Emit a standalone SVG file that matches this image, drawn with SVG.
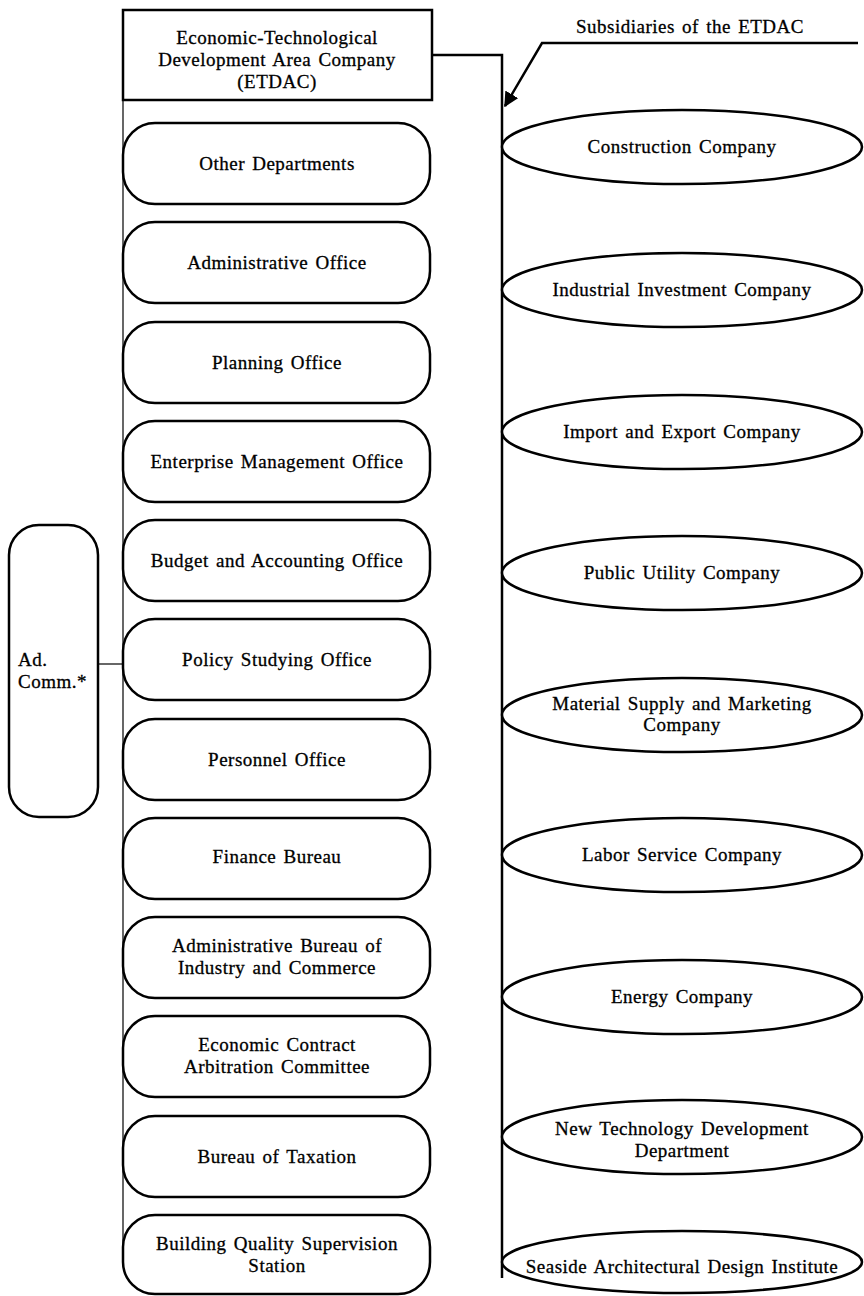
<svg xmlns="http://www.w3.org/2000/svg" width="864" height="1296" viewBox="0 0 864 1296">
<style>
text{font-family:"Liberation Serif","Times New Roman",serif;font-size:19px;fill:#000;stroke:#000;stroke-width:0.3;letter-spacing:0.5px;word-spacing:2px}
.c{text-anchor:middle}
.box{fill:#fff;stroke:#000;stroke-width:2.5}
.thin{fill:none;stroke:#000;stroke-width:1.2}
.thick{fill:none;stroke:#000;stroke-width:2.5}
</style>
<defs>
<marker id="ah" viewBox="0 0 10 10" refX="9" refY="5" markerWidth="6" markerHeight="6" orient="auto" markerUnits="strokeWidth">
<path d="M0,0 L10,5 L0,10 z" fill="#000"/>
</marker>
</defs>
<rect width="864" height="1296" fill="#fff"/>
<g id="connectors">
<line class="thin" x1="123" y1="100" x2="123" y2="1250"/>
<line class="thin" x1="98" y1="664" x2="123" y2="664"/>
<polyline class="thick" points="432,55 502,55 502,1278"/>
<polyline class="thick" points="858,43 542,43 505,106" marker-end="url(#ah)"/>
</g>
<g id="etdac">
<rect class="box" x="123" y="10" width="309" height="90"/>
<text class="c" x="277" y="44">Economic-Technological</text>
<text class="c" x="277" y="66">Development Area Company</text>
<text class="c" x="277" y="88">(ETDAC)</text>
</g>
<text id="subsidiaries-label" class="c" x="690" y="33">Subsidiaries of the ETDAC</text>
<g id="adcomm">
<rect class="box" x="9" y="525" width="89" height="292" rx="30"/>
<text x="18" y="666">Ad.</text>
<text x="18" y="688">Comm.*</text>
</g>
<g id="dept-other"><rect class="box" x="123" y="123" width="307" height="81" rx="32"/><text class="c" x="277" y="170">Other Departments</text></g>
<g id="dept-admin"><rect class="box" x="123" y="222" width="307" height="81" rx="32"/><text class="c" x="277" y="269">Administrative Office</text></g>
<g id="dept-planning"><rect class="box" x="123" y="322" width="307" height="81" rx="32"/><text class="c" x="277" y="369">Planning Office</text></g>
<g id="dept-enterprise"><rect class="box" x="123" y="421" width="307" height="81" rx="32"/><text class="c" x="277" y="468">Enterprise Management Office</text></g>
<g id="dept-budget"><rect class="box" x="123" y="520" width="307" height="81" rx="32"/><text class="c" x="277" y="567">Budget and Accounting Office</text></g>
<g id="dept-policy"><rect class="box" x="123" y="619" width="307" height="81" rx="32"/><text class="c" x="277" y="666">Policy Studying Office</text></g>
<g id="dept-personnel"><rect class="box" x="123" y="719" width="307" height="81" rx="32"/><text class="c" x="277" y="766">Personnel Office</text></g>
<g id="dept-finance"><rect class="box" x="123" y="818" width="307" height="81" rx="32"/><text class="c" x="277" y="863">Finance Bureau</text></g>
<g id="dept-aic"><rect class="box" x="123" y="917" width="307" height="81" rx="32"/><text class="c" x="277" y="952">Administrative Bureau of</text><text class="c" x="277" y="974">Industry and Commerce</text></g>
<g id="dept-arbitration"><rect class="box" x="123" y="1016" width="307" height="81" rx="32"/><text class="c" x="277" y="1051">Economic Contract</text><text class="c" x="277" y="1073">Arbitration Committee</text></g>
<g id="dept-taxation"><rect class="box" x="123" y="1116" width="307" height="81" rx="32"/><text class="c" x="277" y="1163">Bureau of Taxation</text></g>
<g id="dept-building"><rect class="box" x="123" y="1215" width="307" height="79" rx="32"/><text class="c" x="277" y="1250">Building Quality Supervision</text><text class="c" x="277" y="1272">Station</text></g>
<g id="sub-construction"><ellipse class="box" cx="682" cy="147" rx="180" ry="37"/><text class="c" x="682" y="153">Construction Company</text></g>
<g id="sub-industrial"><ellipse class="box" cx="682" cy="290" rx="180" ry="37"/><text class="c" x="682" y="296">Industrial Investment Company</text></g>
<g id="sub-import"><ellipse class="box" cx="682" cy="432" rx="180" ry="37"/><text class="c" x="682" y="438">Import and Export Company</text></g>
<g id="sub-utility"><ellipse class="box" cx="682" cy="573" rx="180" ry="37"/><text class="c" x="682" y="579">Public Utility Company</text></g>
<g id="sub-material"><ellipse class="box" cx="682" cy="715" rx="180" ry="37"/><text class="c" x="682" y="710">Material Supply and Marketing</text><text class="c" x="682" y="731">Company</text></g>
<g id="sub-labor"><ellipse class="box" cx="682" cy="855" rx="180" ry="37"/><text class="c" x="682" y="861">Labor Service Company</text></g>
<g id="sub-energy"><ellipse class="box" cx="682" cy="997" rx="180" ry="37"/><text class="c" x="682" y="1003">Energy Company</text></g>
<g id="sub-newtech"><ellipse class="box" cx="682" cy="1137" rx="180" ry="37"/><text class="c" x="682" y="1135">New Technology Development</text><text class="c" x="682" y="1157">Department</text></g>
<g id="sub-seaside"><ellipse class="box" cx="682" cy="1262" rx="180" ry="31"/><text class="c" x="682" y="1273" letter-spacing="0.2">Seaside Architectural Design Institute</text></g>
</svg>
